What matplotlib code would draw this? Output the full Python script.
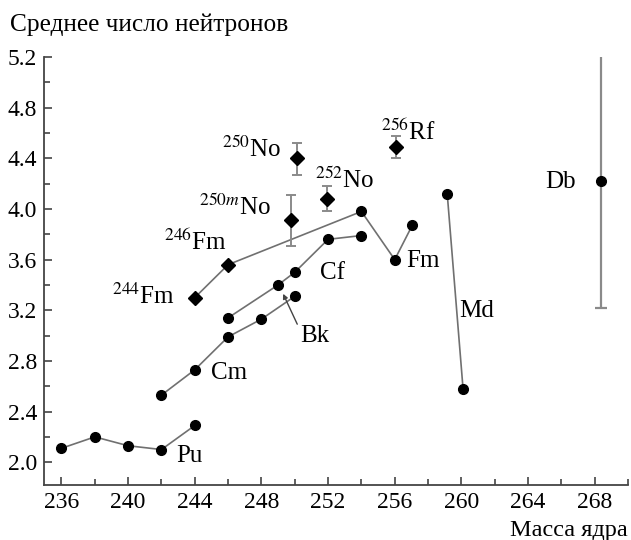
import matplotlib
matplotlib.use("Agg")
import matplotlib.pyplot as plt
from matplotlib.ticker import MultipleLocator

plt.rcParams['font.family'] = ['Liberation Serif', 'DejaVu Serif']
plt.rcParams['mathtext.fontset'] = 'stix'

# ---- data ----
pu_x = [236, 238, 240, 242, 244]
pu_y = [2.11, 2.20, 2.13, 2.10, 2.29]

cm_x = [242, 244, 246, 248, 250]
cm_y = [2.53, 2.73, 2.99, 3.13, 3.31]

cf_x = [246, 249, 250, 252, 254]
cf_y = [3.14, 3.40, 3.50, 3.76, 3.79]

fm_x = [244, 246, 254, 256, 257.05]
fm_y = [3.30, 3.56, 3.98, 3.60, 3.87]

md_x = [259.15, 260.1]
md_y = [4.12, 2.58]

db_x = [268.4]
db_y = [4.22]
db_err = [1.0]

heavy_names = ['$^{250m}$No', '$^{250}$No', '$^{252}$No', '$^{256}$Rf']
heavy_x = [249.75, 250.13, 251.92, 256.06]
heavy_y = [3.91, 4.40, 4.08, 4.49]
heavy_err_lo = [0.20, 0.13, 0.10, 0.09]
heavy_err_hi = [0.20, 0.12, 0.10, 0.09]

xticks = [236, 240, 244, 248, 252, 256, 260, 264, 268]
yticks = [2.0, 2.4, 2.8, 3.2, 3.6, 4.0, 4.4, 4.8, 5.2]

LINE = '#707070'
ERR = '#8a8a8a'
SERIF = ['Liberation Serif', 'DejaVu Serif']

fig = plt.figure(figsize=(6.31, 5.40), dpi=100)
ax = fig.add_axes([44/631, 55/540, (628-44)/631, (485-57)/540])

lw = 1.2
ms = 7.0
for xs, ys in [(pu_x, pu_y), (cm_x, cm_y), (cf_x, cf_y), (md_x, md_y)]:
    ax.plot(xs, ys, '-', color=LINE, lw=lw, zorder=2)
    ax.plot(xs, ys, 'o', color='black', ms=ms, zorder=3)

ax.plot(fm_x, fm_y, '-', color=LINE, lw=lw, zorder=2)
ax.plot(fm_x[:2], fm_y[:2], 'D', color='black', ms=7.4, zorder=3)
ax.plot(fm_x[2:], fm_y[2:], 'o', color='black', ms=ms, zorder=3)

ax.errorbar(db_x, db_y, yerr=db_err, fmt='o', color='black', ms=ms,
            ecolor=ERR, elinewidth=1.6, capsize=4.5, capthick=1.6, zorder=3)
ax.errorbar(heavy_x, heavy_y, yerr=[heavy_err_lo, heavy_err_hi], fmt='D',
            color='black', ms=7.4, ecolor=ERR, elinewidth=1.4, capsize=3.8,
            capthick=1.4, zorder=3)

ax.set_xlim(234.95, 270.0)
ax.set_ylim(1.82, 5.2)
ax.xaxis.set_minor_locator(MultipleLocator(2))
ax.yaxis.set_minor_locator(MultipleLocator(0.2))
ax.set_xticks(xticks)
ax.set_yticks(yticks)
ax.set_xticklabels([str(t) for t in xticks], fontfamily=SERIF)
ax.set_yticklabels([f"{t:.1f}" for t in yticks], fontfamily=SERIF)

for s in ['top', 'right']:
    ax.spines[s].set_visible(False)
for s in ['left', 'bottom']:
    ax.spines[s].set_color('#444444')
    ax.spines[s].set_linewidth(1.3)
ax.tick_params(which='major', direction='in', length=6, width=1.2,
               color='#444444', labelsize=17, pad=5)
ax.tick_params(which='minor', direction='in', length=4.3, width=1.2,
               color='#444444')

fs = 18
# series labels
ax.text(242.86, 2.0, 'Pu', fontsize=fs, va='baseline', ha='left')
ax.text(244.96, 2.66, 'Cm', fontsize=fs, va='baseline', ha='left')
ax.text(250.3, 2.95, 'Bk', fontsize=fs, va='baseline', ha='left')
ax.text(251.5, 3.445, 'Cf', fontsize=fs, va='baseline', ha='left')
ax.text(256.7, 3.545, 'Fm', fontsize=fs, va='baseline', ha='left')
ax.text(259.9, 3.15, 'Md', fontsize=fs, va='baseline', ha='left')
ax.text(266.86, 4.163, 'Db', fontsize=fs, va='baseline', ha='right')
ax.text(242.8, 3.247, '$^{244}$Fm', fontsize=fs, va='baseline', ha='right')
ax.text(245.9, 3.676, '$^{246}$Fm', fontsize=fs, va='baseline', ha='right')

# heavy isotope labels
ax.text(248.6, 3.953, heavy_names[0], fontsize=fs, va='baseline', ha='right')
ax.text(249.2, 4.413, heavy_names[1], fontsize=fs, va='baseline', ha='right')
ax.text(251.2, 4.163, heavy_names[2], fontsize=fs, va='baseline', ha='left')
ax.text(255.2, 4.545, heavy_names[3], fontsize=fs, va='baseline', ha='left')

# Bk pointer
ax.annotate('', xy=(249.3, 3.33), xytext=(250.15, 3.09),
            arrowprops=dict(arrowstyle='-|>', color='#444444', lw=1.0,
                            mutation_scale=7, shrinkA=0, shrinkB=0))

fig.text(10/631, 1 - 31.5/540, 'Среднее число нейтронов', fontsize=18.3,
         ha='left', va='baseline')
fig.text(628/631, 1 - 536/540, 'Масса ядра', fontsize=17.5,
         ha='right', va='baseline')

fig.savefig('out.png', dpi=100)
